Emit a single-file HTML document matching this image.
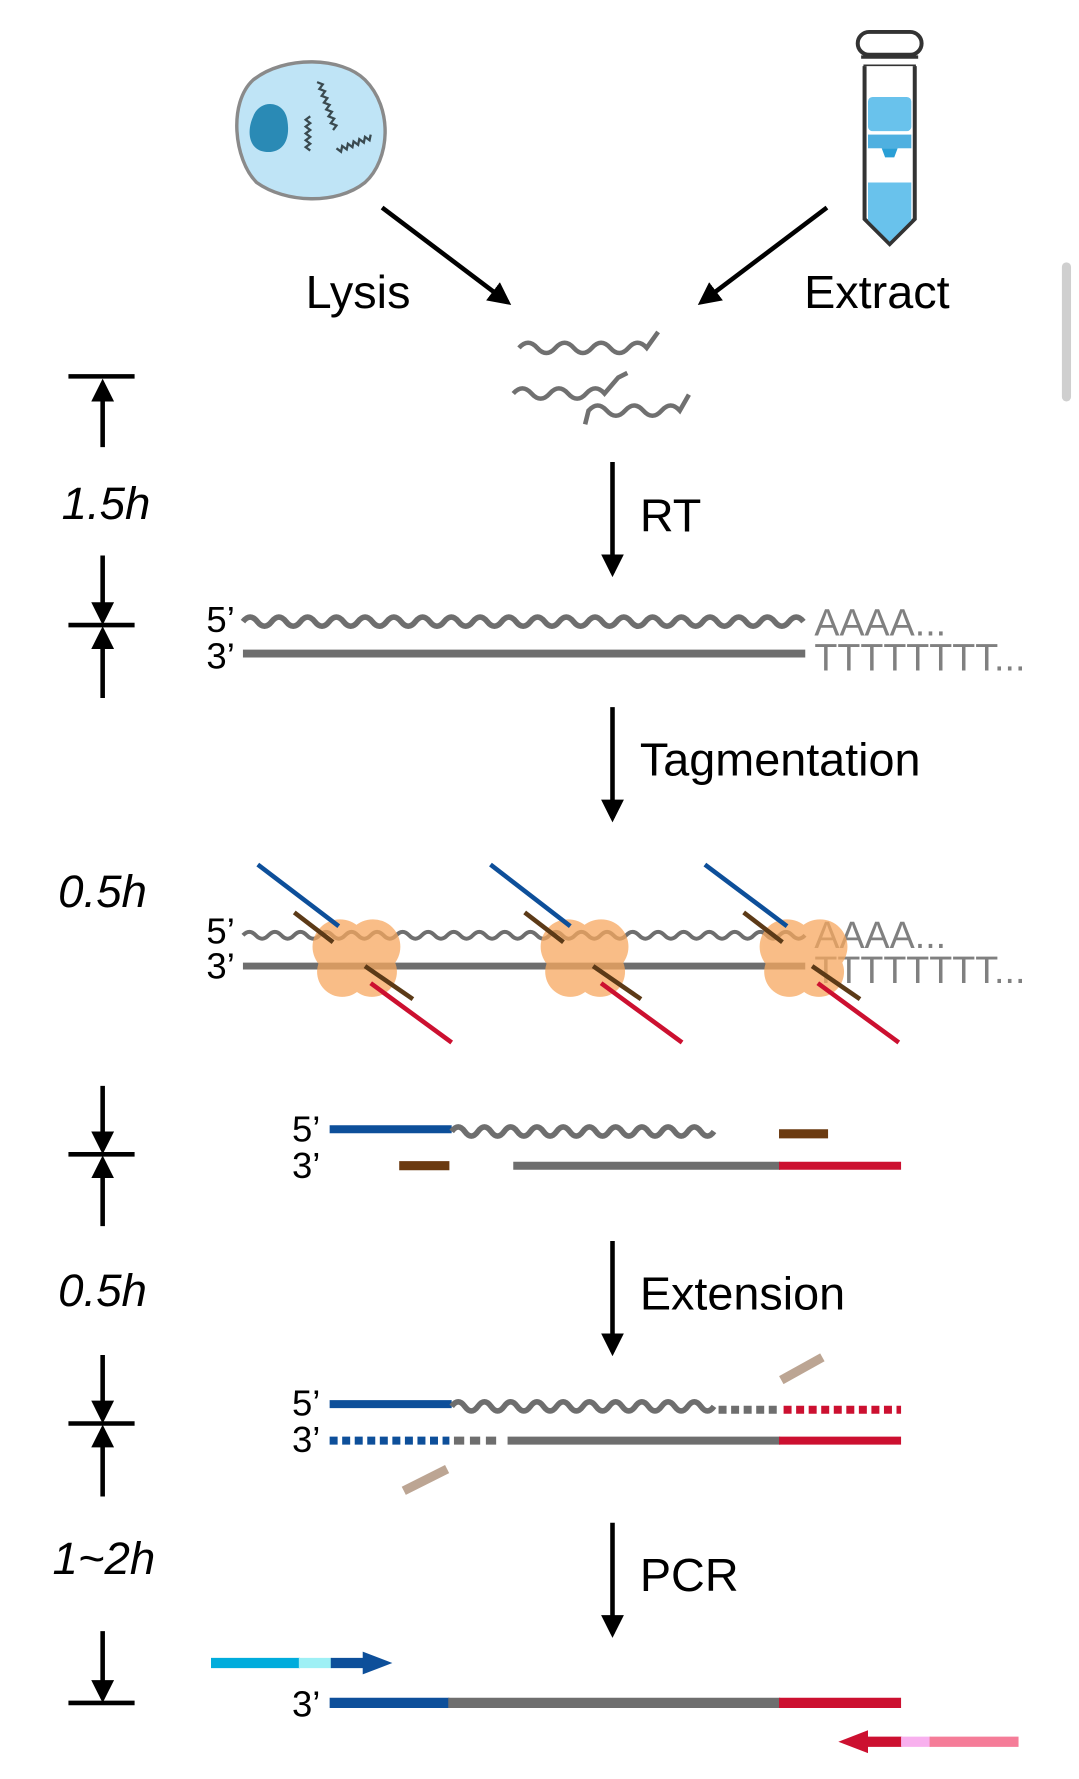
<!DOCTYPE html>
<html><head><meta charset="utf-8"><style>
html,body{margin:0;padding:0;background:#fff;}
svg{display:block;}
text{font-family:"Liberation Sans",Arial,sans-serif;}
</style></head><body>
<svg width="1079" height="1779" viewBox="0 0 946 1559.7" preserveAspectRatio="none" xmlns="http://www.w3.org/2000/svg">
<defs>
<marker id="ah" viewBox="0 0 10 10" refX="8" refY="5" markerWidth="5" markerHeight="5" orient="auto-start-reverse"><path d="M0,0 L10,5 L0,10 z" fill="#000"/></marker>
</defs>
<!-- cell -->
<path d="M222,70 C250,48 300,50 320,70 C345,95 342,140 320,160 C295,180 250,178 225,160 C205,140 200,90 222,70 Z" fill="#bfe4f6" stroke="#8a8a8a" stroke-width="3"/>
<path d="M222,102 C228,86 250,88 252,106 C255,125 246,135 232,133 C218,131 216,115 222,102 Z" fill="#2a8ab5"/>
<g fill="none" stroke="#3a4a50" stroke-width="2">
<path d="M278,72 l5,2 l-3,4 l5,2 l-3,4 l5,2 l-3,4 l5,2 l-3,4 l5,2 l-3,4 l5,2 l-3,4 l5,2 l-3,4"/>
<path d="M272,102 l-4,3 l4,3 l-4,3 l4,3 l-4,3 l4,3 l-4,3 l4,3 l-4,3 l4,3"/>
<path d="M325,118 l-1,5 l-4,-3 l-1,5 l-4,-3 l-1,5 l-4,-3 l-1,5 l-4,-3 l-1,5 l-4,-3 l-1,5 l-4,-3"/>
</g>
<!-- tube -->
<rect x="752" y="28" width="56" height="20" rx="10" fill="#fff" stroke="#333" stroke-width="3.5"/>
<path d="M755,50 h50 M757,58 h46" stroke="#333" stroke-width="3"/>
<path d="M758,58 V192 L780,214 L802,192 V58" fill="#fff" stroke="#333" stroke-width="3.5"/>
<rect x="761" y="85" width="38" height="30" rx="4" fill="#69c2ec"/>
<rect x="761" y="118" width="38" height="12" fill="#4fb0e0"/>
<path d="M773,130 h14 l-3,8 h-8 z" fill="#2a9fd6"/>
<path d="M761,160 h38 V193 L780,212 L761,193 z" fill="#69c2ec"/>
<!-- arrows -->
<g stroke="#000" stroke-width="4" fill="none" marker-end="url(#ah)">
<line x1="335" y1="182" x2="445" y2="265"/>
<line x1="725" y1="182" x2="615" y2="265"/>
<line x1="537" y1="405" x2="537" y2="502"/>
<line x1="537" y1="620" x2="537" y2="717"/>
<line x1="537" y1="1088" x2="537" y2="1185"/>
<line x1="537" y1="1335" x2="537" y2="1432"/>
</g>
<g font-size="41" fill="#000">
<text x="268" y="270">Lysis</text>
<text x="705" y="270">Extract</text>
<text x="561" y="466">RT</text>
<text x="561" y="680">Tagmentation</text>
<text x="561" y="1148">Extension</text>
<text x="561" y="1395">PCR</text>
</g>
<g font-size="40" font-style="italic" fill="#000">
<text x="54" y="455">1.5h</text>
<text x="51" y="795">0.5h</text>
<text x="51" y="1145">0.5h</text>
<text x="46" y="1380">1~2h</text>
</g>
<rect x="931" y="230" width="8" height="122" rx="4" fill="#cfcfcf"/>
<!-- RNA squiggles -->
<g fill="none" stroke="#707070" stroke-width="4">
<path d="M455,305 q8,-9 16,0 t16,0 t16,0 t16,0 t16,0 t16,0 t16,0 l10,-14"/>
<path d="M450,345 q8,-9 16,0 t16,0 t16,0 t16,0 t16,0 l12,-14 l8,-4"/>
<path d="M513,372 l3,-12 q8,-9 16,0 t16,0 t16,0 t16,0 t16,0 l8,-14"/>
</g>
<!-- left markers -->
<g stroke="#000" stroke-width="4" fill="none">
<line x1="60" y1="330" x2="118" y2="330"/>
<line x1="90" y1="392" x2="90" y2="336" marker-end="url(#ah)"/>
<line x1="90" y1="487" x2="90" y2="544" marker-end="url(#ah)"/>
<line x1="60" y1="548" x2="118" y2="548"/>
<line x1="90" y1="612" x2="90" y2="553" marker-end="url(#ah)"/>
<line x1="90" y1="952" x2="90" y2="1008" marker-end="url(#ah)"/>
<line x1="60" y1="1012" x2="118" y2="1012"/>
<line x1="90" y1="1075" x2="90" y2="1017" marker-end="url(#ah)"/>
<line x1="90" y1="1188" x2="90" y2="1244" marker-end="url(#ah)"/>
<line x1="60" y1="1248" x2="118" y2="1248"/>
<line x1="90" y1="1312" x2="90" y2="1253" marker-end="url(#ah)"/>
<line x1="90" y1="1430" x2="90" y2="1489" marker-end="url(#ah)"/>
<line x1="60" y1="1493" x2="118" y2="1493"/>
</g>
<!-- RT row -->
<g font-size="32" fill="#000"><text x="181" y="554">5’</text><text x="181" y="586">3’</text></g>
<path d="M213,545 q6.3,-8 12.6,0 t12.6,0 t12.6,0 t12.6,0 t12.6,0 t12.6,0 t12.6,0 t12.6,0 t12.6,0 t12.6,0 t12.6,0 t12.6,0 t12.6,0 t12.6,0 t12.6,0 t12.6,0 t12.6,0 t12.6,0 t12.6,0 t12.6,0 t12.6,0 t12.6,0 t12.6,0 t12.6,0 t12.6,0 t12.6,0 t12.6,0 t12.6,0 t12.6,0 t12.6,0 t12.6,0 t12.6,0 t12.6,0 t12.6,0 t12.6,0 t12.6,0 t12.6,0 t12.6,0 t12.6,0" fill="none" stroke="#6e6e6e" stroke-width="5"/>
<line x1="213" y1="573" x2="706" y2="573" stroke="#6e6e6e" stroke-width="7"/>
<g font-size="33" fill="#808080"><text x="714" y="557">AAAA...</text><text x="714" y="588">TTTTTTTT...</text></g>
<!-- Tagmentation row -->
<g font-size="32" fill="#000"><text x="181" y="827">5’</text><text x="181" y="858">3’</text></g>
<path d="M213,820 q5.6,-6 11.2,0 t11.2,0 t11.2,0 t11.2,0 t11.2,0 t11.2,0 t11.2,0 t11.2,0 t11.2,0 t11.2,0 t11.2,0 t11.2,0 t11.2,0 t11.2,0 t11.2,0 t11.2,0 t11.2,0 t11.2,0 t11.2,0 t11.2,0 t11.2,0 t11.2,0 t11.2,0 t11.2,0 t11.2,0 t11.2,0 t11.2,0 t11.2,0 t11.2,0 t11.2,0 t11.2,0 t11.2,0 t11.2,0 t11.2,0 t11.2,0 t11.2,0 t11.2,0 t11.2,0 t11.2,0 t11.2,0 t11.2,0 t11.2,0 t11.2,0 t11.2,0" fill="none" stroke="#6e6e6e" stroke-width="3.5"/>
<line x1="213" y1="847" x2="706" y2="847" stroke="#6e6e6e" stroke-width="6"/>
<g font-size="33" fill="#808080"><text x="714" y="831">AAAA...</text><text x="714" y="862">TTTTTTTT...</text></g>
<g fill="#f7a85f" opacity="0.75">
<circle cx="298" cy="830" r="24"/><circle cx="327" cy="830" r="24"/><circle cx="300" cy="852" r="22"/><circle cx="326" cy="852" r="22"/>
<circle cx="498" cy="830" r="24"/><circle cx="527" cy="830" r="24"/><circle cx="500" cy="852" r="22"/><circle cx="526" cy="852" r="22"/>
<circle cx="690" cy="830" r="24"/><circle cx="719" cy="830" r="24"/><circle cx="692" cy="852" r="22"/><circle cx="718" cy="852" r="22"/>
</g>
<g stroke-width="4">
<line x1="226" y1="758" x2="297" y2="812" stroke="#0d4f9a"/>
<line x1="430" y1="758" x2="500" y2="812" stroke="#0d4f9a"/>
<line x1="618" y1="758" x2="690" y2="812" stroke="#0d4f9a"/>
<line x1="258" y1="800" x2="292" y2="826" stroke="#5c3a17"/>
<line x1="460" y1="800" x2="494" y2="826" stroke="#5c3a17"/>
<line x1="652" y1="800" x2="686" y2="826" stroke="#5c3a17"/>
<line x1="320" y1="847" x2="362" y2="876" stroke="#5c3a17"/>
<line x1="520" y1="847" x2="562" y2="876" stroke="#5c3a17"/>
<line x1="712" y1="847" x2="754" y2="876" stroke="#5c3a17"/>
<line x1="325" y1="862" x2="396" y2="914" stroke="#cc1030"/>
<line x1="527" y1="862" x2="598" y2="914" stroke="#cc1030"/>
<line x1="717" y1="862" x2="788" y2="914" stroke="#cc1030"/>
</g>
<!-- fragment row -->
<g font-size="32" fill="#000"><text x="256" y="1001">5’</text><text x="256" y="1033">3’</text></g>
<line x1="289" y1="990" x2="396" y2="990" stroke="#0d4f9a" stroke-width="7"/>
<path d="M396,992 q5.75,-8 11.5,0 t11.5,0 t11.5,0 t11.5,0 t11.5,0 t11.5,0 t11.5,0 t11.5,0 t11.5,0 t11.5,0 t11.5,0 t11.5,0 t11.5,0 t11.5,0 t11.5,0 t11.5,0 t11.5,0 t11.5,0 t11.5,0 t11.5,0" fill="none" stroke="#6e6e6e" stroke-width="5"/>
<line x1="683" y1="994" x2="726" y2="994" stroke="#6b3a10" stroke-width="8"/>
<line x1="350" y1="1022" x2="394" y2="1022" stroke="#6b3a10" stroke-width="8"/>
<line x1="450" y1="1022" x2="684" y2="1022" stroke="#6e6e6e" stroke-width="7"/>
<line x1="683" y1="1022" x2="790" y2="1022" stroke="#cc1030" stroke-width="7"/>
<!-- extension row -->
<g font-size="32" fill="#000"><text x="256" y="1241">5’</text><text x="256" y="1273">3’</text></g>
<line x1="289" y1="1231" x2="396" y2="1231" stroke="#0d4f9a" stroke-width="7"/>
<path d="M396,1233 q5.75,-8 11.5,0 t11.5,0 t11.5,0 t11.5,0 t11.5,0 t11.5,0 t11.5,0 t11.5,0 t11.5,0 t11.5,0 t11.5,0 t11.5,0 t11.5,0 t11.5,0 t11.5,0 t11.5,0 t11.5,0 t11.5,0 t11.5,0 t11.5,0" fill="none" stroke="#6e6e6e" stroke-width="5"/>
<line x1="630" y1="1236" x2="683" y2="1236" stroke="#6e6e6e" stroke-width="7" stroke-dasharray="7,4"/>
<line x1="687" y1="1236" x2="790" y2="1236" stroke="#cc1030" stroke-width="7" stroke-dasharray="7,4"/>
<line x1="289" y1="1263" x2="394" y2="1263" stroke="#0d4f9a" stroke-width="7" stroke-dasharray="7,4"/>
<line x1="398" y1="1263" x2="440" y2="1263" stroke="#6e6e6e" stroke-width="7" stroke-dasharray="9,5"/>
<line x1="445" y1="1263" x2="684" y2="1263" stroke="#6e6e6e" stroke-width="7"/>
<line x1="683" y1="1263" x2="790" y2="1263" stroke="#cc1030" stroke-width="7"/>
<line x1="685" y1="1210" x2="721" y2="1190" stroke="#bca593" stroke-width="8"/>
<line x1="354" y1="1307" x2="392" y2="1288" stroke="#bca593" stroke-width="8"/>
<!-- PCR row -->
<line x1="185" y1="1458" x2="263" y2="1458" stroke="#00acdc" stroke-width="9"/>
<line x1="262" y1="1458" x2="291" y2="1458" stroke="#9ef0f5" stroke-width="9"/>
<line x1="290" y1="1458" x2="322" y2="1458" stroke="#0d4f9a" stroke-width="9"/>
<path d="M318,1448 L344,1458 L318,1468 z" fill="#0d4f9a"/>
<text x="256" y="1505" font-size="32" fill="#000">3’</text>
<line x1="289" y1="1493" x2="394" y2="1493" stroke="#0d4f9a" stroke-width="9"/>
<line x1="393" y1="1493" x2="684" y2="1493" stroke="#6e6e6e" stroke-width="9"/>
<line x1="683" y1="1493" x2="790" y2="1493" stroke="#cc1030" stroke-width="9"/>
<line x1="757" y1="1527" x2="791" y2="1527" stroke="#cc1030" stroke-width="9"/>
<path d="M761,1517 L735,1527 L761,1537 z" fill="#cc1030"/>
<line x1="790" y1="1527" x2="816" y2="1527" stroke="#f8b0ee" stroke-width="9"/>
<line x1="815" y1="1527" x2="893" y2="1527" stroke="#f57c98" stroke-width="9"/>
</svg>
</body></html>
